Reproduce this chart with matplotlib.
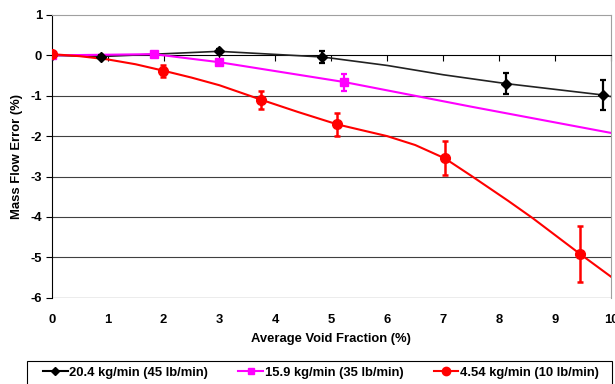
import matplotlib
matplotlib.use("Agg")
import matplotlib.pyplot as plt
from matplotlib.lines import Line2D
from matplotlib.patches import Rectangle

plt.rcParams['font.family'] = ['Liberation Sans', 'DejaVu Sans']
plt.rcParams['font.weight'] = 'bold'
plt.rcParams['axes.unicode_minus'] = False

# measured points (void fraction %, error %, error bar half-height)
black_x = [0.0, 0.88, 2.99, 4.84, 8.13, 9.85]
black_y = [0.0, -0.03, 0.10, -0.04, -0.70, -0.98]
black_err = [0.0, 0.03, 0.05, 0.14, 0.26, 0.37]

pink_x = [0.0, 1.83, 3.0, 5.23]
pink_y = [0.0, 0.03, -0.17, -0.66]
pink_err = [0.0, 0.03, 0.05, 0.21]

red_x = [0.0, 1.99, 3.75, 5.11, 7.03, 9.44]
red_y = [0.03, -0.38, -1.10, -1.71, -2.55, -4.91]
red_err = [0.0, 0.15, 0.22, 0.28, 0.42, 0.69]

# trend curves
black_line_x = [0.0, 0.88, 2.99, 4.84, 6.0, 7.0, 8.13, 9.85, 10.0]
black_line_y = [0.0, -0.03, 0.10, -0.04, -0.25, -0.48, -0.70, -0.98, -1.02]
pink_line_x = [0.0, 1.83, 3.0, 5.23, 7.5, 10.0]
pink_line_y = [0.0, 0.03, -0.17, -0.66, -1.27, -1.92]
red_line_x = [0.0, 0.5, 1.0, 1.5, 2.0, 2.5, 3.0, 3.75, 4.4, 5.11, 5.6, 6.0, 6.5,
              7.03, 7.5, 8.16, 8.6, 9.44, 10.0]
red_line_y = [0.03, -0.02, -0.10, -0.22, -0.38, -0.55, -0.74, -1.10, -1.40, -1.71,
              -1.87, -2.00, -2.22, -2.55, -2.98, -3.60, -4.03, -4.91, -5.48]

labels = ['20.4 kg/min (45 lb/min)', '15.9 kg/min (35 lb/min)', '4.54 kg/min (10 lb/min)']
x_ticks = list(range(0, 11))
y_ticks = list(range(-6, 2))
y_grid = [-5, -4, -3, -2, -1]

fs = 9.4

fig = plt.figure(figsize=(6.15, 3.84), dpi=100)
ax = fig.add_axes([0.084, 0.2247, 0.9095, 0.7363])

ax.hlines(y_grid, 0, 10, colors='#404040', linewidth=0.8, zorder=1)
ax.axhline(-6, color='#a0a0a0', linewidth=1.0, zorder=1)

ax.plot(black_line_x, black_line_y, color='#222222', linewidth=1.2, zorder=3)
ax.errorbar(black_x, black_y, yerr=black_err, fmt='D', color='black', markersize=5,
            elinewidth=1.6, capsize=2.5, capthick=1.6, zorder=4)

ax.plot(pink_line_x, pink_line_y, color='#ff00ff', linewidth=1.5, zorder=3)
ax.errorbar(pink_x, pink_y, yerr=pink_err, fmt='s', color='#ff00ff', markersize=6,
            elinewidth=1.6, capsize=2.5, capthick=1.6, zorder=4)

ax.plot(red_line_x, red_line_y, color='#ff0000', linewidth=1.5, zorder=3)
ax.errorbar(red_x, red_y, yerr=red_err, fmt='o', color='#ff0000', markersize=7,
            elinewidth=1.8, capsize=2.5, capthick=1.8, zorder=5)

ax.set_xlim(0, 10)
ax.set_ylim(-6, 1)

# x axis line crosses at zero, labels stay at the bottom
ax.spines['bottom'].set_position(('data', 0))
ax.spines['bottom'].set_color('black')
ax.spines['left'].set_color('black')
ax.spines['top'].set_color('#a0a0a0')
ax.spines['right'].set_color('#a0a0a0')
ax.set_xticks(x_ticks)
ax.tick_params(axis='x', direction='out', length=4, labelbottom=False, color='black')
ax.set_yticks(y_ticks)
ax.tick_params(axis='y', direction='out', length=4, labelsize=fs, pad=3)

sec = ax.secondary_xaxis('bottom')
sec.set_xticks(x_ticks)
sec.tick_params(length=0, labelsize=fs, pad=12)
sec.spines['bottom'].set_visible(False)

ax.text(0.5, -0.145, 'Average Void Fraction (%)', transform=ax.transAxes,
        ha='center', va='center', fontsize=fs, fontweight='bold')
ax.set_ylabel('Mass Flow Error (%)', fontsize=fs, fontweight='bold')
ax.yaxis.set_label_coords(-0.051, 0.5)

handles = [
    Line2D([], [], color='black', marker='D', markersize=4, linewidth=1.5),
    Line2D([], [], color='#ff00ff', marker='s', markersize=5, linewidth=1.5),
    Line2D([], [], color='#ff0000', marker='o', markersize=6, linewidth=1.5),
]
fig.legend(handles, labels, loc='center left', ncol=3,
           bbox_to_anchor=(43 / 615, 1 - 372.7 / 384),
           frameon=False, handlelength=1.9, handletextpad=0.1,
           columnspacing=2.33, borderpad=0.0, borderaxespad=0.0,
           prop={'weight': 'bold', 'size': fs})
fig.add_artist(Rectangle((27 / 615, -0.01), 585 / 615, (386 - 361) / 384 + 0.005,
                         transform=fig.transFigure, fill=False,
                         edgecolor='black', linewidth=0.8))

fig.savefig('out.png', dpi=100)
